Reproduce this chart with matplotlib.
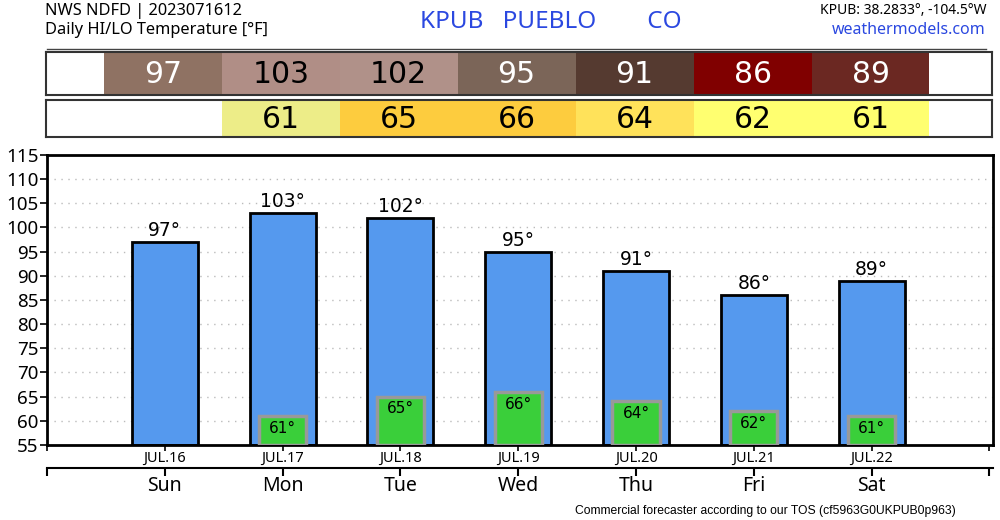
import matplotlib
matplotlib.use('Agg')
import matplotlib.pyplot as plt

days = ['Sun', 'Mon', 'Tue', 'Wed', 'Thu', 'Fri', 'Sat']
dates = ['JUL.16', 'JUL.17', 'JUL.18', 'JUL.19', 'JUL.20', 'JUL.21', 'JUL.22']
hi = [97, 103, 102, 95, 91, 86, 89]
lo = [None, 61, 65, 66, 64, 62, 61]
hi_colors = ['#8f7263', '#b08e86', '#b09189', '#7b6558', '#553a30', '#800000', '#6b2822']
hi_text = ['white', 'black', 'black', 'white', 'white', 'white', 'white']
lo_colors = [None, '#eded88', '#fdcc3e', '#fdcc3e', '#ffe25a', '#ffff70', '#ffff70']
yticks = list(range(55, 116, 5))

BLUE = '#5599ee'
GREEN = '#3acf3a'
TITLE_BLUE = '#2b48e0'

fig = plt.figure(figsize=(10, 5.2), dpi=100)
x = list(range(len(days)))
xl = (-0.99, 7.03)

# --- top colour rows
def colour_row(rect, vals, colors, tcolors):
    ax = fig.add_axes(rect)
    ax.set_xlim(*xl)
    ax.set_ylim(0, 1)
    for i, v in enumerate(vals):
        if v is None:
            continue
        ax.bar(i, 1, width=1.0, bottom=0, color=colors[i], edgecolor='none', align='center')
        ax.text(i, 0.47, str(v), ha='center', va='center', fontsize=21.5,
                color=tcolors[i], family='DejaVu Sans')
    ax.set_xticks([])
    ax.set_yticks([])
    for s in ax.spines.values():
        s.set_linewidth(1.5)
        s.set_color('#333333')
    return ax

colour_row([0.046, 0.8173, 0.946, 0.0827], hi, hi_colors, hi_text)
colour_row([0.046, 0.7365, 0.946, 0.0712], lo, lo_colors, ['black'] * 7)

# --- main bar chart
ax = fig.add_axes([0.047, 0.1442, 0.946, 0.558])
ax.set_xlim(*xl)
ax.set_ylim(55, 115)
ax.set_yticks(yticks)
for yv in yticks[1:-1]:
    ax.axhline(yv, color='#bbbbbb', linestyle=(0, (1, 4)), linewidth=1, zorder=0)
base = 55
ax.bar(x, [h - base for h in hi], bottom=base, width=0.56, color=BLUE,
       edgecolor='black', linewidth=2, zorder=2)
for i, h in enumerate(hi):
    ax.text(i, h + 0.4, f'{h}°', ha='center', va='bottom', fontsize=13.5,
            family='DejaVu Sans', zorder=4)
for i, l in enumerate(lo):
    if l is None:
        continue
    ax.bar(i, l - base, bottom=base, width=0.4, color=GREEN,
           edgecolor='#999999', linewidth=2.5, zorder=3)
    ax.text(i, l - 1.0, f'{l}°', ha='center', va='top', fontsize=11,
            family='DejaVu Sans', zorder=4)
ax.set_xticks([-1] + x + [7])
ax.set_xticklabels([''] + dates + [''], fontsize=10.5, family='Noto Sans')
ax.tick_params(axis='x', length=4, width=1.2, pad=0)
ax.tick_params(axis='y', length=5, width=1.2, pad=1, labelsize=13.5)
for lab in ax.get_yticklabels():
    lab.set_family('Noto Sans')
for s in ax.spines.values():
    s.set_linewidth(2)

# --- weekday axis
ax2 = fig.add_axes([0.047, 0.1, 0.946, 0.001])
ax2.set_xlim(*xl)
ax2.set_yticks([])
for side in ['left', 'right', 'top']:
    ax2.spines[side].set_visible(False)
ax2.spines['bottom'].set_linewidth(1.5)
ax2.set_xticks([-1] + x + [7])
ax2.set_xticklabels([''] + days + [''], fontsize=14, family='Noto Sans')
ax2.tick_params(axis='x', length=6, width=1.5, pad=0)
ax2.patch.set_visible(False)

# --- header texts
fig.text(0.045, 0.994, 'NWS NDFD | 2023071612', fontsize=11.8, va='top', family='Noto Sans')
fig.text(0.045, 0.957, 'Daily HI/LO Temperature [°F]', fontsize=11.8, va='top', family='Noto Sans')
fig.text(0.551, 0.958, 'KPUB   PUEBLO        CO', fontsize=17.5, ha='center', va='center',
         color=TITLE_BLUE, family='Noto Sans', fontweight='semibold')
fig.text(0.986, 0.994, 'KPUB: 38.2833°, -104.5°W', fontsize=10, ha='right', va='top',
         family='Noto Sans', fontweight='medium')
fig.text(0.986, 0.957, 'weathermodels.com', fontsize=11.5, ha='right', va='top',
         color=TITLE_BLUE, family='Noto Sans', fontweight='medium')
fig.add_artist(plt.Line2D([0.047, 0.986], [0.906, 0.906], color='#444444', lw=1))
fig.text(0.765, 0.018, 'Commercial forecaster according to our TOS (cf5963G0UKPUB0p963)',
         fontsize=8.7, ha='center', va='center', family='Liberation Sans')

fig.savefig('out.png', dpi=100)
